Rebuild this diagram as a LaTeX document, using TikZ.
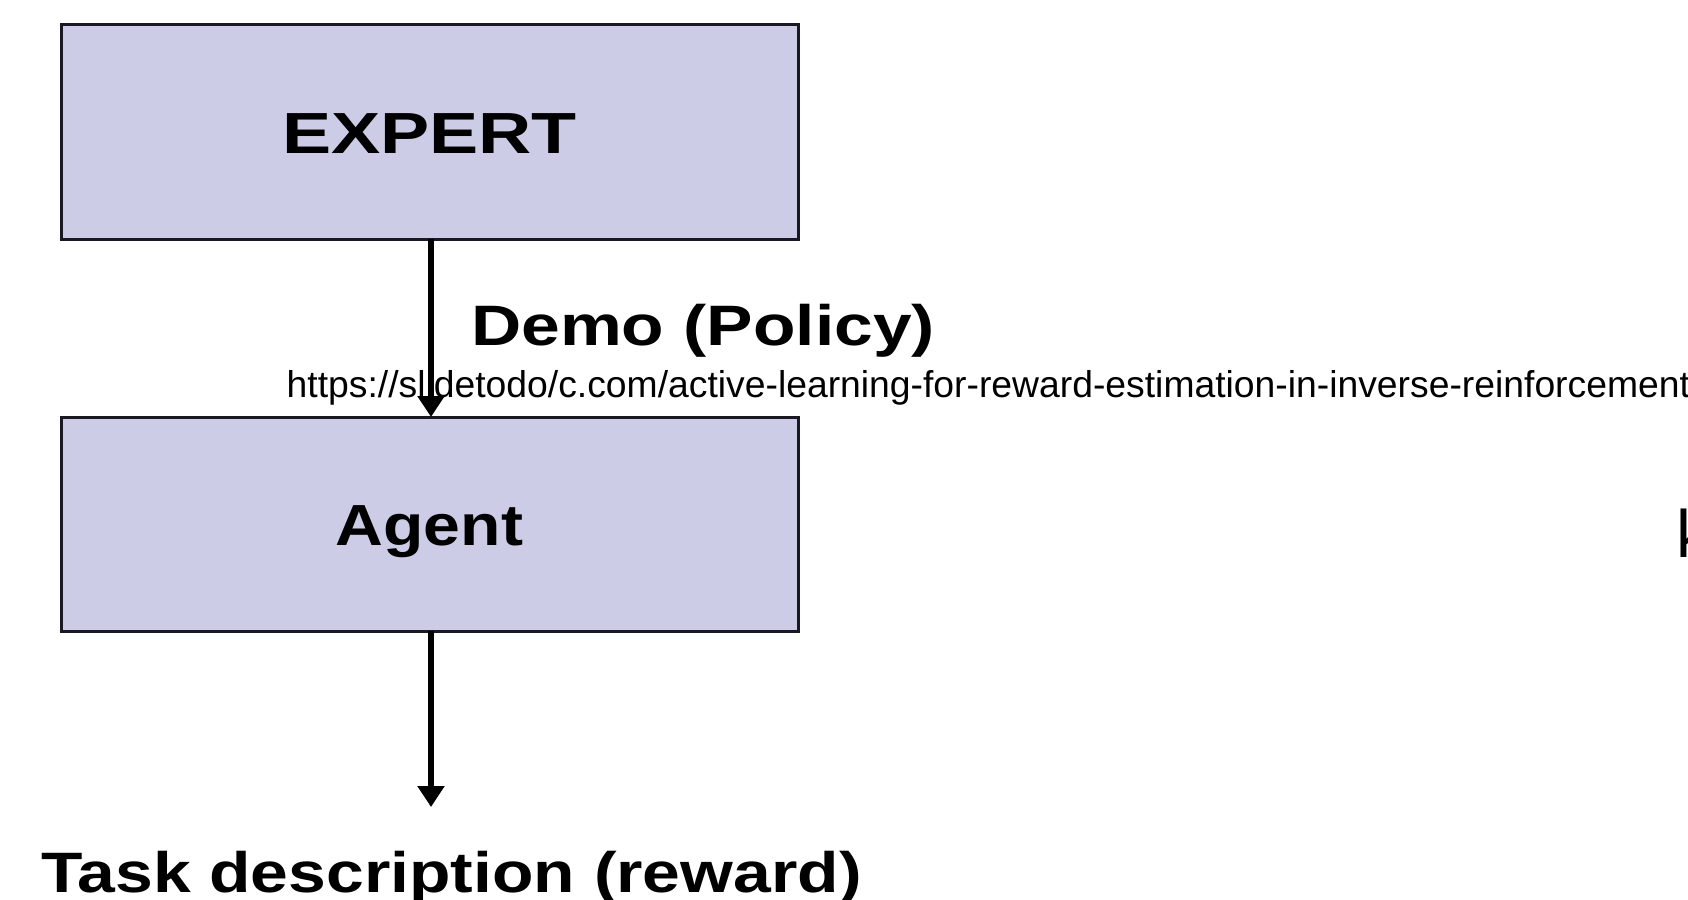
\documentclass[tikz,border=0pt]{standalone}
\usepackage{fontspec}
\setmainfont{Liberation Sans}
\usetikzlibrary{arrows.meta}
\definecolor{boxfill}{RGB}{204,204,230}
\definecolor{boxline}{RGB}{25,25,35}
\begin{document}
\begin{tikzpicture}[x=1pt,y=-1pt,
  block/.style={draw=boxline,line width=3pt,fill=boxfill,
    minimum width=737pt,minimum height=214pt,inner sep=0pt,outer sep=0pt,
    text height=42pt,text depth=0pt,font=\fontsize{58}{60}\selectfont\bfseries},
  caption/.style={inner sep=0pt,anchor=base west,font=\fontsize{57}{60}\selectfont\bfseries},
  flow/.style={line width=6pt,-{Triangle[width=26pt,length=21pt]}},
  urltext/.style={inner sep=0pt,anchor=base west,font=\fontsize{37.3}{40}\selectfont}]
\useasboundingbox (0,0) rectangle (1688,899);
\clip (0,0) rectangle (1688,899);
\fill[white] (0,0) rectangle (1688,899);

% the two boxes
\node[block] (expert) at (429.5,132) {\scalebox{1.27}[1]{EXPERT}};
\node[block] (agent) at (429.5,524) {\scalebox{1.14}[1]{Agent}};

% labels beside and below the arrows
\node[caption] (demo) at (471,345) {\scalebox{1.22}[1]{Demo (Policy)}};
\node[caption] (task) at (41,892) {\scalebox{1.19}[1]{Task description (reward)}};

% source line and a cut-off letter at the right edge
\node[urltext] (src) at (286.5,397) {https://slidetodo/c.com/active-learning-for-reward-estimation-in-inverse-reinforcement};
\node[urltext,font=\fontsize{67}{70}\selectfont] (edge) at (1676.5,557) {k};

% arrows
\coordinate (taskend) at (431,807);
\draw[flow] ([xshift=1.5pt]expert.south) -- ([xshift=1.5pt]agent.north);
\draw[flow] ([xshift=1.5pt]agent.south) -- (taskend);
\end{tikzpicture}
\end{document}
